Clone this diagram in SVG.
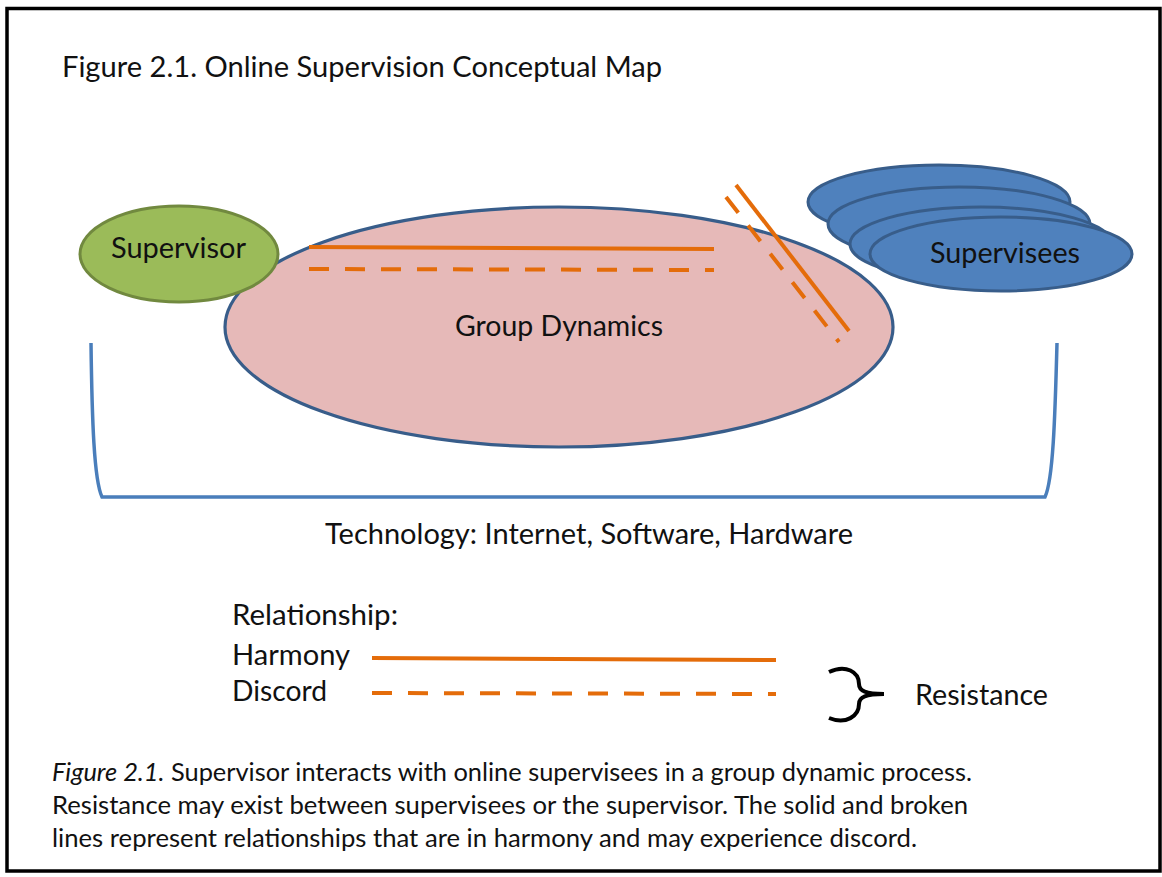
<svg xmlns="http://www.w3.org/2000/svg" width="1162" height="877" viewBox="0 0 1162 877" xml:space="preserve">
  <style>
    text { font-family: Lato, "Open Sans", "Liberation Sans", sans-serif; fill: #111; }
    .lbl { font-size: 28px; }
    .cap { font-size: 25px; }
    .harmony { stroke: #e46c0a; stroke-width: 4; fill: none; }
    .discord { stroke: #e46c0a; stroke-width: 4; fill: none; stroke-dasharray: 20 16; }
    .sup { fill: #4f81bd; stroke: #385d8a; stroke-width: 3; }
  </style>

  <!-- page frame -->
  <rect x="0" y="0" width="1162" height="877" fill="#ffffff"/>
  <rect x="7" y="8.5" width="1153" height="862.5" fill="none" stroke="#000" stroke-width="3.5"/>

  <text class="lbl" x="62" y="77" textLength="600" lengthAdjust="spacingAndGlyphs">Figure 2.1.  Online Supervision Conceptual Map</text>

  <!-- technology bracket -->
  <g id="technology">
    <path d="M91,343 C92,420 94,480 102,497 L1045,497 C1053,480 1055,420 1057,343" fill="none" stroke="#4a7ebb" stroke-width="3.5"/>
    <text class="lbl" x="325" y="544" textLength="528" lengthAdjust="spacingAndGlyphs">Technology: Internet, Software, Hardware</text>
  </g>

  <!-- group dynamics -->
  <g id="group-dynamics">
    <ellipse cx="559" cy="327" rx="334" ry="120" fill="#e6b9b8" stroke="#385d8a" stroke-width="3.2"/>
    <text class="lbl" x="455" y="336" textLength="208" lengthAdjust="spacingAndGlyphs">Group Dynamics</text>
  </g>

  <!-- supervisor -->
  <g id="supervisor">
    <ellipse cx="179" cy="254" rx="99" ry="48" fill="#9bbb59" stroke="#71893f" stroke-width="3"/>
    <text class="lbl" x="111" y="258" textLength="135" lengthAdjust="spacingAndGlyphs">Supervisor</text>
  </g>

  <!-- supervisees (stacked) -->
  <g id="supervisees">
    <ellipse class="sup" cx="939" cy="202" rx="131" ry="37"/>
    <ellipse class="sup" cx="959" cy="224" rx="131" ry="37"/>
    <ellipse class="sup" cx="981" cy="244" rx="131" ry="37"/>
    <ellipse class="sup" cx="1001" cy="254" rx="131" ry="37"/>
    <text class="lbl" x="930" y="263" textLength="150" lengthAdjust="spacingAndGlyphs">Supervisees</text>
  </g>

  <!-- relationship lines -->
  <g id="connectors">
    <line class="harmony" x1="309" y1="247" x2="714" y2="249"/>
    <line class="discord" x1="309" y1="269" x2="714" y2="270"/>
    <line class="harmony" x1="736" y1="185" x2="849" y2="331"/>
    <line class="discord" x1="726" y1="197" x2="839" y2="342"/>
  </g>

  <!-- legend -->
  <g id="legend">
    <text class="lbl" x="232" y="625" textLength="166" lengthAdjust="spacingAndGlyphs">Relationship:</text>
    <text class="lbl" x="232" y="665" textLength="118" lengthAdjust="spacingAndGlyphs">Harmony</text>
    <text class="lbl" x="232" y="701" textLength="95" lengthAdjust="spacingAndGlyphs">Discord</text>
    <line class="harmony" x1="372" y1="658" x2="776" y2="660"/>
    <line class="discord" x1="372" y1="693" x2="776" y2="694"/>
    <path d="M829,672 C846,664 859,672 859,684 C859,691 866,694 884,694 C866,694 859,697 859,704 C859,716 846,725 829,718" fill="none" stroke="#000" stroke-width="4"/>
    <text class="lbl" x="915" y="705" textLength="133" lengthAdjust="spacingAndGlyphs">Resistance</text>
  </g>

  <!-- caption -->
  <g id="caption">
    <text class="cap" x="52" y="781" textLength="920" lengthAdjust="spacingAndGlyphs"><tspan font-style="italic">Figure 2.1.</tspan> Supervisor interacts with online supervisees  in a group dynamic process.</text>
    <text class="cap" x="52" y="814" textLength="916" lengthAdjust="spacingAndGlyphs">Resistance may exist between supervisees or the supervisor. The solid and broken</text>
    <text class="cap" x="52" y="847" textLength="865" lengthAdjust="spacingAndGlyphs">lines represent  relationships that are in harmony and may experience  discord.</text>
  </g>
</svg>
